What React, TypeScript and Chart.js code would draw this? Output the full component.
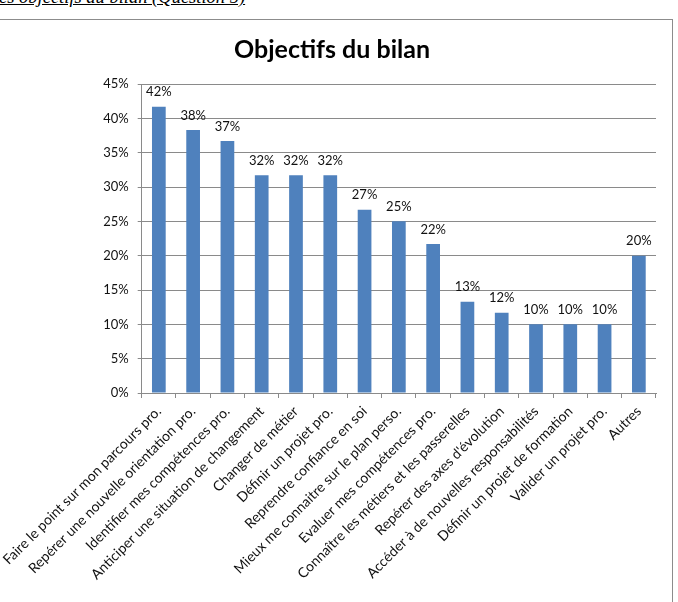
import React, { useEffect, useRef } from 'react';
import { Chart, registerables } from 'chart.js';

Chart.register(...registerables);

const categories = [
  'Faire le point sur mon parcours pro.',
  'Repérer une nouvelle orientation pro.',
  'Identifier mes compétences pro.',
  'Anticiper une situation de changement',
  'Changer de métier',
  'Définir un projet pro.',
  'Reprendre confiance en soi',
  'Mieux me connaitre sur le plan perso.',
  'Evaluer mes compétences pro.',
  'Connaître les métiers et les passerelles',
  "Repérer des axes d'évolution",
  'Accéder à de nouvelles responsabilités',
  'Définir un projet de formation',
  'Valider un projet pro.',
  'Autres',
];

const values = [41.7, 38.3, 36.7, 31.7, 31.7, 31.7, 26.7, 25.0, 21.7, 13.3, 11.7, 10.0, 10.0, 10.0, 20.0];

const valueLabels = ['42%', '38%', '37%', '32%', '32%', '32%', '27%', '25%', '22%', '13%', '12%', '10%', '10%', '10%', '20%'];

const chartTitle = 'Objectifs du bilan';
const headerText = 'es objectifs du bilan (Question 5)';

const FONT = 'Lato';
const TEXT = '#111';
const GRID = '#8a8a8a';

const valueLabelPlugin = {
  id: 'valueLabels',
  afterDatasetsDraw(chart: any) {
    const ctx = chart.ctx;
    const meta = chart.getDatasetMeta(0);
    ctx.save();
    ctx.font = `13px ${FONT}`;
    ctx.fillStyle = TEXT;
    ctx.textAlign = 'center';
    ctx.textBaseline = 'bottom';
    meta.data.forEach((bar: any, i: number) => {
      ctx.fillText(valueLabels[i], bar.x, bar.y - 8);
    });
    ctx.restore();
  },
};

export default function App() {
  const ref = useRef<HTMLCanvasElement>(null);

  useEffect(() => {
    if (!ref.current) return;
    const chart = new Chart(ref.current, {
      type: 'bar',
      data: {
        labels: categories,
        datasets: [
          {
            data: values,
            backgroundColor: '#4F81BD',
            borderWidth: 0,
            barPercentage: 0.4,
            categoryPercentage: 1,
          },
        ],
      },
      options: {
        responsive: false,
        animation: false,
        devicePixelRatio: 1,
        layout: { padding: { left: 8, right: 16, top: 0, bottom: 0 } },
        plugins: {
          legend: { display: false },
          tooltip: { enabled: false },
          title: {
            display: true,
            text: chartTitle,
            color: '#000',
            font: { family: FONT, size: 25, weight: 'bold' },
            padding: { top: 16, bottom: 19 },
          },
        },
        scales: {
          x: {
            offset: true,
            grid: {
              display: true,
              offset: true,
              drawOnChartArea: false,
              drawTicks: true,
              tickLength: 5,
              color: GRID,
            },
            border: { display: true, color: GRID },
            ticks: {
              autoSkip: false,
              maxRotation: 45,
              minRotation: 45,
              padding: 5,
              color: TEXT,
              font: { family: FONT, size: 14 },
            },
            afterFit: (s: any) => {
              s.height = 209;
              s.paddingLeft = 0;
              s.paddingRight = 0;
            },
          },
          y: {
            min: 0,
            max: 45,
            ticks: {
              stepSize: 5,
              padding: 9,
              color: TEXT,
              font: { family: FONT, size: 13 },
              callback: (v: any) => v + '%',
            },
            grid: { color: GRID, drawTicks: true, tickLength: 4 },
            border: { display: true, color: GRID },
            afterFit: (s: any) => {
              s.width = 133.7;
            },
          },
        },
      },
      plugins: [valueLabelPlugin],
    });
    return () => chart.destroy();
  }, []);

  return (
    <div
      style={{
        position: 'absolute',
        left: 0,
        top: 0,
        width: 678,
        height: 602,
        overflow: 'hidden',
        background: '#fff',
      }}
    >
      <div
        style={{
          position: 'absolute',
          left: -1,
          top: -13,
          fontFamily: '"Liberation Serif", serif',
          fontStyle: 'italic',
          fontSize: 18.5,
          textDecoration: 'underline',
          whiteSpace: 'nowrap',
          color: '#000',
        }}
      >
        {headerText}
      </div>
      <div
        style={{
          position: 'absolute',
          left: -6,
          top: 19,
          width: 679,
          height: 600,
          border: '1px solid #8c8c8c',
          boxSizing: 'border-box',
        }}
      />
      <canvas
        ref={ref}
        width={672}
        height={583}
        style={{ position: 'absolute', left: 0, top: 19, width: 672, height: 583 }}
      />
    </div>
  );
}
